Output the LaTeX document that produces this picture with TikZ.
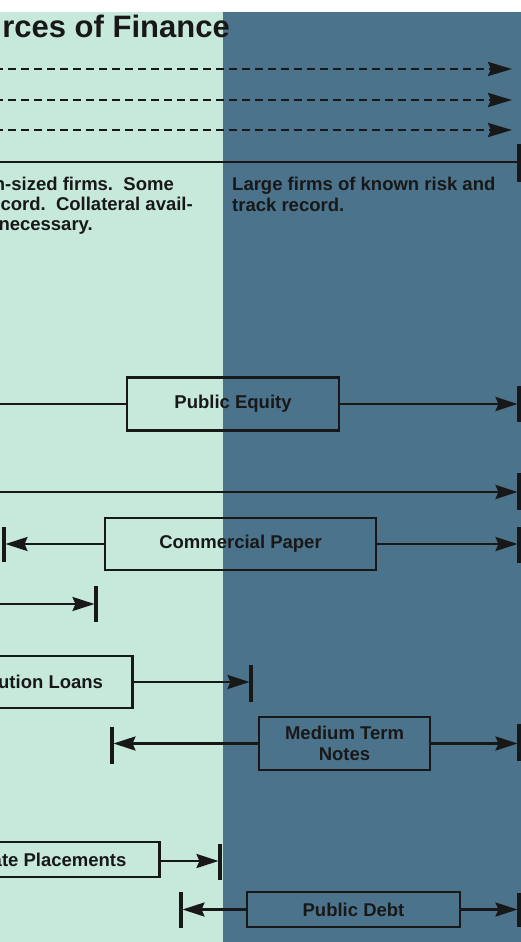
\documentclass[tikz,border=0pt]{standalone}
\usepackage{fontspec}
\setmainfont{Liberation Sans}
\usetikzlibrary{arrows.meta}
\definecolor{mint}{RGB}{198,233,219}
\definecolor{slate}{RGB}{76,115,140}
\definecolor{ink}{RGB}{24,24,24}
\begin{document}
\begin{tikzpicture}[x=1pt,y=-1pt,
  lbl/.style={font=\bfseries\fontsize{18.5}{21}\selectfont, text=ink},
  box/.style={draw=ink, line width=2.8pt, lbl, inner sep=0pt},
  conn/.style={draw=ink, line width=2.5pt},
  arr/.style={conn, -{Stealth[length=22pt,width=14pt,inset=3pt]}, shorten >=1.5pt},
  bar/.style={draw=ink, line width=3.2pt},
  dsh/.style={draw=ink, line width=2.8pt, dash pattern=on 8pt off 5pt, -{Stealth[length=24pt,width=14pt,inset=3pt]}}]
\useasboundingbox (0,0) rectangle (521,942);
\fill[white] (0,0) rectangle (521,12);
\fill[mint] (0,12) rectangle (222.5,942);
\fill[slate] (222.5,12) rectangle (521,942);
\clip (0,0) rectangle (521,942);

% title
\node[font=\bfseries\fontsize{31}{34}\selectfont, text=ink, anchor=base east, inner sep=0pt] (title) at (230,37.5) {rces of Finance};

% dashed arrows
\coordinate (d1a) at (-5,69);  \coordinate (d1b) at (512,69);
\coordinate (d2a) at (-5,100); \coordinate (d2b) at (512,100);
\coordinate (d3a) at (-5,130); \coordinate (d3b) at (512,130);
\draw[dsh] (d1a) -- (d1b);
\draw[dsh] (d2a) -- (d2b);
\draw[dsh] (d3a) -- (d3b);

% solid scale line
\coordinate (s0a) at (-5,162); \coordinate (s0b) at (519,162);
\draw[conn] (s0a) -- (s0b);
\draw[bar, line width=4.5pt] ([yshift=18pt]s0b) -- ([yshift=-20pt]s0b);

% descriptions
\node[lbl, anchor=base east, inner sep=0pt] (l1) at (174,190) {n-sized firms.\ \ Some};
\node[lbl, anchor=base east, inner sep=0pt] (l2) at (193,210.5) {cord.\ \ Collateral avail-};
\node[lbl, anchor=base east, inner sep=0pt] (l3) at (93,230) {necessary.};
\node[lbl, anchor=base west, align=left, inner sep=0pt] (r1) at (232,211) {Large firms of known risk and\\track record.};

% public equity
\node[box, minimum width=212pt, minimum height=53pt] (pe) at (233,404) {Public Equity};
\coordinate (pe0) at (-5,404); \coordinate (pe1) at (519,404);
\draw[conn] (pe0) -- (pe.west);
\draw[arr] (pe.east) -- (pe1);
\draw[bar] ([yshift=18pt]pe1) -- ([yshift=-18pt]pe1);

% full line
\coordinate (fa) at (-5,492); \coordinate (fb) at (519,492);
\draw[arr] (fa) -- (fb);
\draw[bar] ([yshift=19pt]fb) -- ([yshift=-18pt]fb);

% commercial paper
\node[box, minimum width=271pt, minimum height=52pt] (cp) at (240.5,544) {Commercial Paper};
\coordinate (cpL) at (4,544); \coordinate (cpR) at (519,544);
\draw[arr] (cp.west) -- (cpL);
\draw[arr] (cp.east) -- (cpR);
\draw[bar] ([yshift=17pt]cpL) -- ([yshift=-18pt]cpL);
\draw[bar] ([yshift=17pt]cpR) -- ([yshift=-19pt]cpR);

% short arrow
\coordinate (sa) at (-5,604); \coordinate (sb) at (96,604);
\draw[arr] (sa) -- (sb);
\draw[bar] ([yshift=18pt]sb) -- ([yshift=-18pt]sb);

% institution loans
\node[box, anchor=east, minimum width=164pt, minimum height=52pt] (il) at (134,682) {ution Loans};
\coordinate (ilR) at (251,682);
\draw[arr] (il.east) -- (ilR);
\draw[bar] ([yshift=17pt]ilR) -- ([yshift=-20pt]ilR);

% medium term notes
\node[box, align=center, minimum width=171pt, minimum height=53pt] (mtn) at (344.5,743.5) {Medium Term\\Notes};
\coordinate (mtL) at (112,743.5); \coordinate (mtR) at (519,743.5);
\draw[arr] (mtn.west) -- (mtL);
\draw[arr] (mtn.east) -- (mtR);
\draw[bar] ([yshift=17pt]mtL) -- ([yshift=-20pt]mtL);
\draw[bar] ([yshift=20pt]mtR) -- ([yshift=-17pt]mtR);

% private placements
\node[box, anchor=east, minimum width=201pt, minimum height=35pt] (pp) at (161,859.5) {ate Placements};
\coordinate (ppR) at (220,861);
\draw[arr] (pp.east |- ppR) -- (ppR);
\draw[bar] ([yshift=17pt]ppR) -- ([yshift=-19pt]ppR);

% public debt
\node[box, minimum width=213pt, minimum height=35pt] (pd) at (353.5,909.5) {Public Debt};
\coordinate (pdL) at (181,909.5); \coordinate (pdR) at (519,909.5);
\draw[arr] (pd.west) -- (pdL);
\draw[arr] (pd.east) -- (pdR);
\draw[bar] ([yshift=18pt]pdL) -- ([yshift=-18pt]pdL);
\draw[bar] ([yshift=17pt]pdR) -- ([yshift=-17pt]pdR);
\end{tikzpicture}
\end{document}
